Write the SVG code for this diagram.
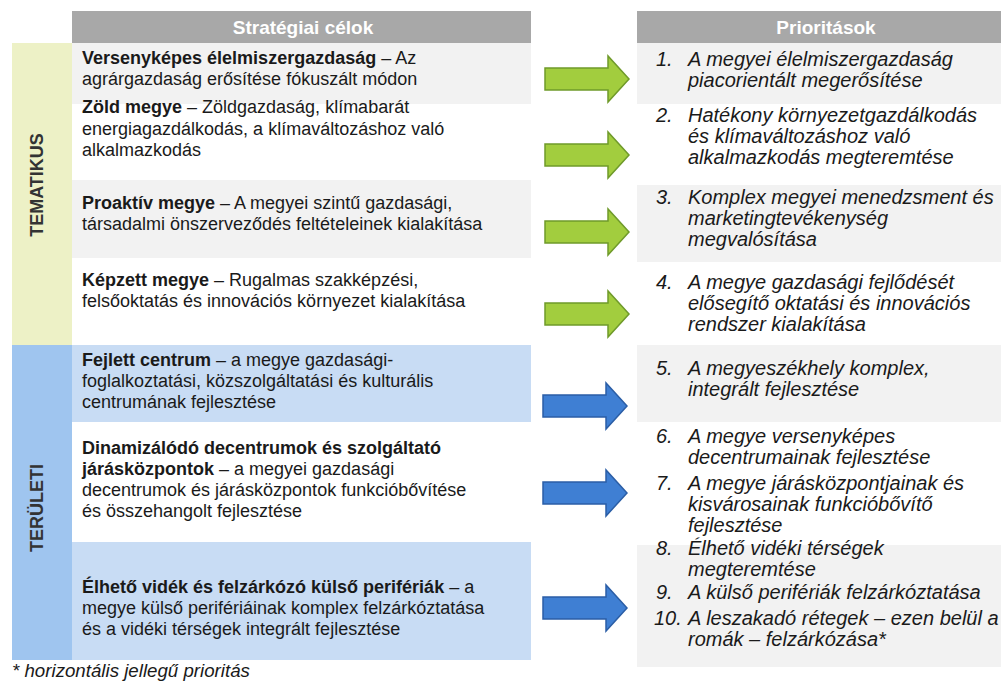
<svg xmlns="http://www.w3.org/2000/svg" width="1001" height="693" viewBox="0 0 1001 693">
<style>
text{font-family:"Liberation Sans",Arial,sans-serif;font-size:18px;fill:#1a1a1a}
.b{font-weight:bold}
.i{font-style:italic;font-size:20px}
.hd{font-weight:bold;fill:#ffffff;text-anchor:middle;font-size:19px}
.side{font-weight:bold;fill:#333333;text-anchor:middle}
.fn{font-style:italic;font-size:18.7px}
.ga{fill:#a2cd3e;stroke:#6f9a2a;stroke-width:1.5}
.ba{fill:#3f7fd3;stroke:#2b5ea6;stroke-width:1.5}
</style>
<defs>
<path id="arr" d="M0,-11 H63 V-23 L84,0 L63,23 V11 H0 Z"/>
</defs>
<rect width="1001" height="693" fill="#ffffff"/>
<g id="header-left"><rect x="72" y="11" width="459" height="32" fill="#a8a8a8"/><text class="hd" x="303" y="34">Stratégiai célok</text></g>
<g id="header-right"><rect x="637" y="11" width="364" height="32" fill="#a8a8a8"/><text class="hd" x="826" y="34">Prioritások</text></g>
<g id="bands">
<rect x="72" y="43" width="459" height="61" fill="#f2f2f2"/>
<rect x="72" y="180" width="459" height="78" fill="#f2f2f2"/>
<rect x="72" y="345" width="459" height="77" fill="#c8dcf4"/>
<rect x="72" y="542" width="459" height="118" fill="#c8dcf4"/>
<rect x="637" y="43" width="364" height="61" fill="#f2f2f2"/>
<rect x="637" y="185" width="364" height="77" fill="#f2f2f2"/>
<rect x="637" y="345" width="364" height="77" fill="#f2f2f2"/>
<rect x="637" y="545" width="364" height="122" fill="#f2f2f2"/>
</g>
<g id="side-tematikus"><rect x="12" y="43" width="60" height="302" fill="#edf1c6"/><text class="side" transform="translate(43,185) rotate(-90)">TEMATIKUS</text></g>
<g id="side-teruleti"><rect x="12" y="345" width="60" height="315" fill="#9fc5ef"/><text class="side" transform="translate(43,508) rotate(-90)">TERÜLETI</text></g>
<g id="goal1"><text x="82" y="64"><tspan class="b">Versenyképes élelmiszergazdaság</tspan> – Az</text><text x="82" y="85">agrárgazdaság erősítése fókuszált módon</text></g>
<g id="goal2"><text x="82" y="113"><tspan class="b">Zöld megye</tspan> – Zöldgazdaság, klímabarát</text><text x="82" y="135">energiagazdálkodás, a klímaváltozáshoz való</text><text x="82" y="156">alkalmazkodás</text></g>
<g id="goal3"><text x="82" y="209"><tspan class="b">Proaktív megye</tspan> – A megyei szintű gazdasági,</text><text x="82" y="230">társadalmi önszerveződés feltételeinek kialakítása</text></g>
<g id="goal4"><text x="82" y="286"><tspan class="b">Képzett megye</tspan> – Rugalmas szakképzési,</text><text x="82" y="307">felsőoktatás és innovációs környezet kialakítása</text></g>
<g id="goal5"><text x="82" y="366"><tspan class="b">Fejlett centrum</tspan> – a megye gazdasági-</text><text x="82" y="387">foglalkoztatási, közszolgáltatási és kulturális</text><text x="82" y="408">centrumának fejlesztése</text></g>
<g id="goal6"><text x="82" y="454" class="b">Dinamizálódó decentrumok és szolgáltató</text><text x="82" y="475"><tspan class="b">járásközpontok</tspan> – a megyei gazdasági</text><text x="82" y="496">decentrumok és járásközpontok funkcióbővítése</text><text x="82" y="517">és összehangolt fejlesztése</text></g>
<g id="goal7"><text x="82" y="593"><tspan class="b">Élhető vidék és felzárkózó külső perifériák</tspan> – a</text><text x="82" y="614">megye külső perifériáinak komplex felzárkóztatása</text><text x="82" y="635">és a vidéki térségek integrált fejlesztése</text></g>
<g id="connectors">
<use href="#arr" class="ga" x="545" y="79"/>
<use href="#arr" class="ga" x="545" y="155"/>
<use href="#arr" class="ga" x="545" y="232"/>
<use href="#arr" class="ga" x="545" y="314"/>
<use href="#arr" class="ba" x="543" y="406"/>
<use href="#arr" class="ba" x="543" y="493"/>
<use href="#arr" class="ba" x="543" y="608"/>
</g>
<g id="prio1"><text class="i" x="656" y="66">1.</text><text class="i" x="688" y="66">A megyei élelmiszergazdaság</text><text class="i" x="688" y="87">piacorientált megerősítése</text></g>
<g id="prio2"><text class="i" x="656" y="122">2.</text><text class="i" x="688" y="122">Hatékony környezetgazdálkodás</text><text class="i" x="688" y="143">és klímaváltozáshoz való</text><text class="i" x="688" y="164">alkalmazkodás megteremtése</text></g>
<g id="prio3"><text class="i" x="656" y="204">3.</text><text class="i" x="688" y="204">Komplex megyei menedzsment és</text><text class="i" x="688" y="225">marketingtevékenység</text><text class="i" x="688" y="246">megvalósítása</text></g>
<g id="prio4"><text class="i" x="656" y="289">4.</text><text class="i" x="688" y="289">A megye gazdasági fejlődését</text><text class="i" x="688" y="310">elősegítő oktatási és innovációs</text><text class="i" x="688" y="331">rendszer kialakítása</text></g>
<g id="prio5"><text class="i" x="656" y="375">5.</text><text class="i" x="688" y="375">A megyeszékhely komplex,</text><text class="i" x="688" y="396">integrált fejlesztése</text></g>
<g id="prio6"><text class="i" x="656" y="443">6.</text><text class="i" x="688" y="443">A megye versenyképes</text><text class="i" x="688" y="464">decentrumainak fejlesztése</text></g>
<g id="prio7"><text class="i" x="656" y="490">7.</text><text class="i" x="688" y="490">A megye járásközpontjainak és</text><text class="i" x="688" y="511">kisvárosainak funkcióbővítő</text><text class="i" x="688" y="532">fejlesztése</text></g>
<g id="prio8"><text class="i" x="656" y="555">8.</text><text class="i" x="688" y="555">Élhető vidéki térségek</text><text class="i" x="688" y="576">megteremtése</text></g>
<g id="prio9"><text class="i" x="656" y="599">9.</text><text class="i" x="688" y="599">A külső perifériák felzárkóztatása</text></g>
<g id="prio10"><text class="i" x="654" y="625">10.</text><text class="i" x="688" y="625">A leszakadó rétegek – ezen belül a</text><text class="i" x="688" y="646">romák – felzárkózása*</text></g>
<g id="footnote"><text class="fn" x="12" y="677">* horizontális jellegű prioritás</text></g>
</svg>
